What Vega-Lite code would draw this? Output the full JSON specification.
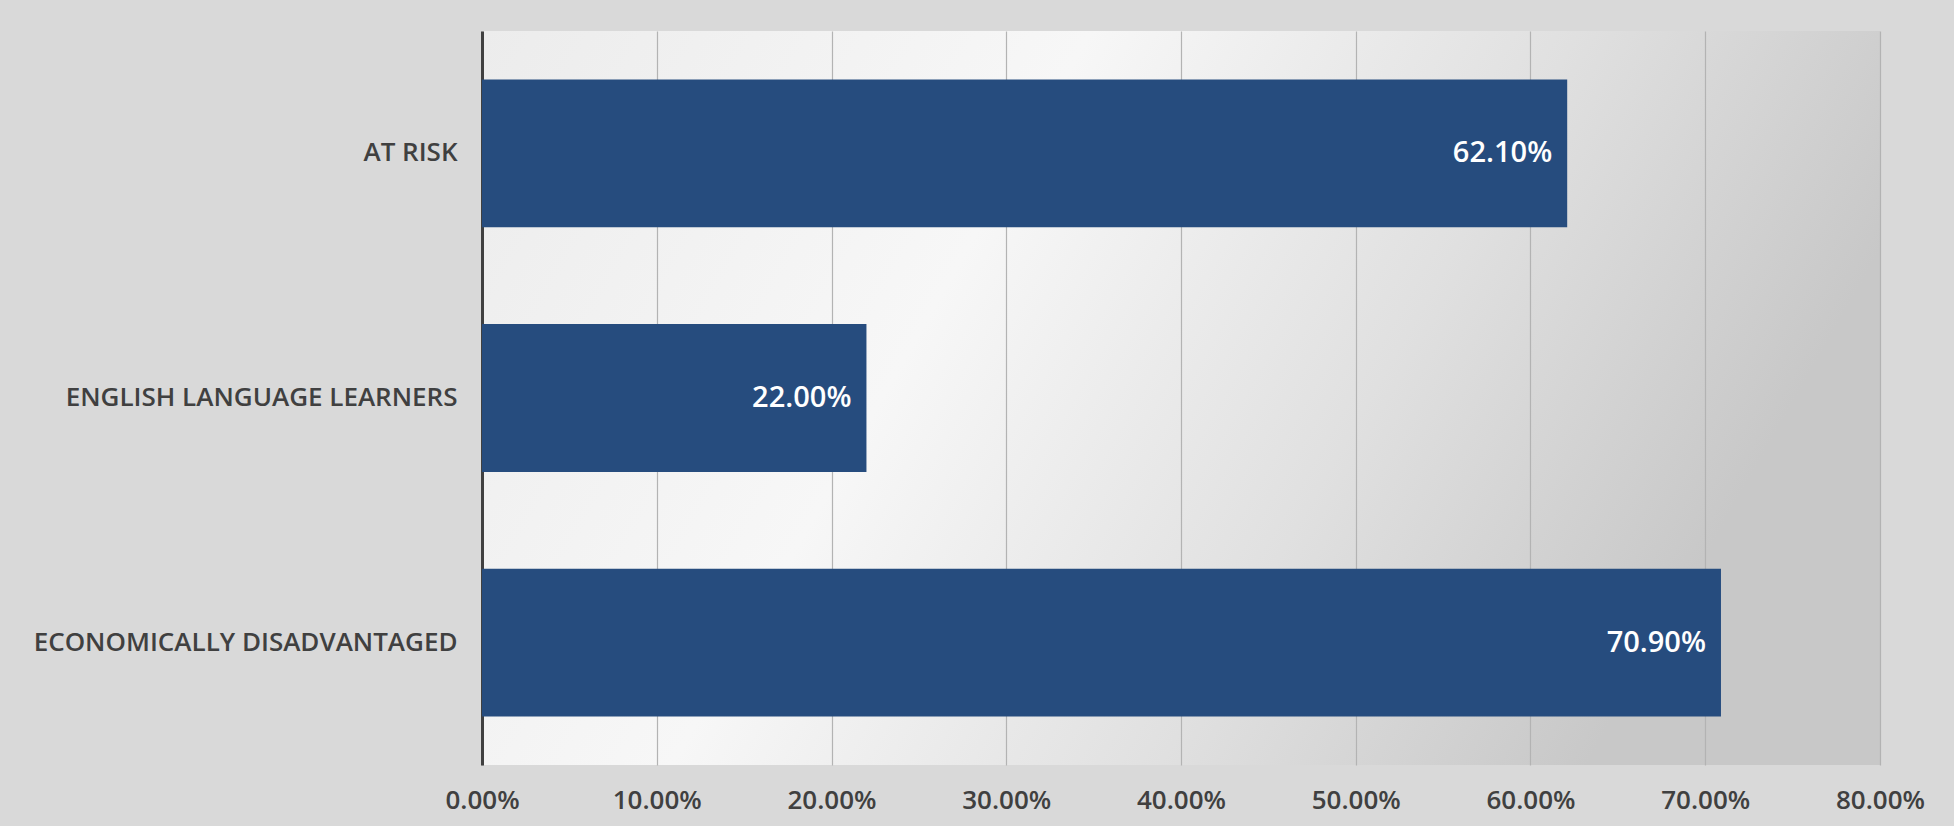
{
  "$schema": "https://vega.github.io/schema/vega-lite/v6.json",
  "width": 1398,
  "height": 734,
  "autosize": {"type": "none"},
  "padding": {"left": 482, "top": 31, "right": 74, "bottom": 61},
  "background": "#d9d9d9",
  "config": {
    "font": "Open Sans",
    "view": {
      "stroke": null,
      "fill": {
        "gradient": "linear",
        "x1": 0, "y1": 0, "x2": 1, "y2": 0.3,
        "stops": [
          {"offset": 0, "color": "#ececec"},
          {"offset": 0.4, "color": "#f7f7f7"},
          {"offset": 0.72, "color": "#e0e0e0"},
          {"offset": 1, "color": "#c8c8c8"}
        ]
      }
    }
  },
  "data": {
    "values": [
      {"category": "AT RISK", "value": 0.621},
      {"category": "ENGLISH LANGUAGE LEARNERS", "value": 0.22},
      {"category": "ECONOMICALLY DISADVANTAGED", "value": 0.709}
    ]
  },
  "encoding": {
    "y": {
      "field": "category",
      "type": "nominal",
      "sort": null,
      "scale": {"paddingInner": 0.396, "paddingOuter": 0.198},
      "axis": {
        "title": null,
        "ticks": false,
        "domain": true,
        "domainColor": "#404040",
        "domainWidth": 3,
        "grid": false,
        "labelFont": "Open Sans",
        "labelFontSize": 26,
        "labelFontWeight": 600,
        "labelColor": "#404040",
        "labelPadding": 25,
        "labelLimit": 600
      }
    },
    "x": {
      "field": "value",
      "type": "quantitative",
      "scale": {"domain": [0, 0.8], "nice": false},
      "axis": {
        "title": null,
        "ticks": false,
        "domain": false,
        "grid": true,
        "gridColor": "#b3b3b3",
        "gridWidth": 1.2,
        "values": [0, 0.1, 0.2, 0.3, 0.4, 0.5, 0.6, 0.7, 0.8],
        "format": ".2%",
        "labelFont": "Open Sans",
        "labelFontSize": 26,
        "labelFontWeight": 600,
        "labelColor": "#404040",
        "labelPadding": 22,
        "labelFlush": false
      }
    }
  },
  "layer": [
    {
      "mark": {"type": "bar", "fill": "#264c7e"}
    },
    {
      "mark": {
        "type": "text",
        "align": "right",
        "baseline": "middle",
        "dx": -15,
        "color": "#ffffff",
        "font": "Open Sans",
        "fontSize": 29,
        "fontWeight": 600
      },
      "encoding": {
        "text": {"field": "value", "type": "quantitative", "format": ".2%"}
      }
    }
  ]
}
